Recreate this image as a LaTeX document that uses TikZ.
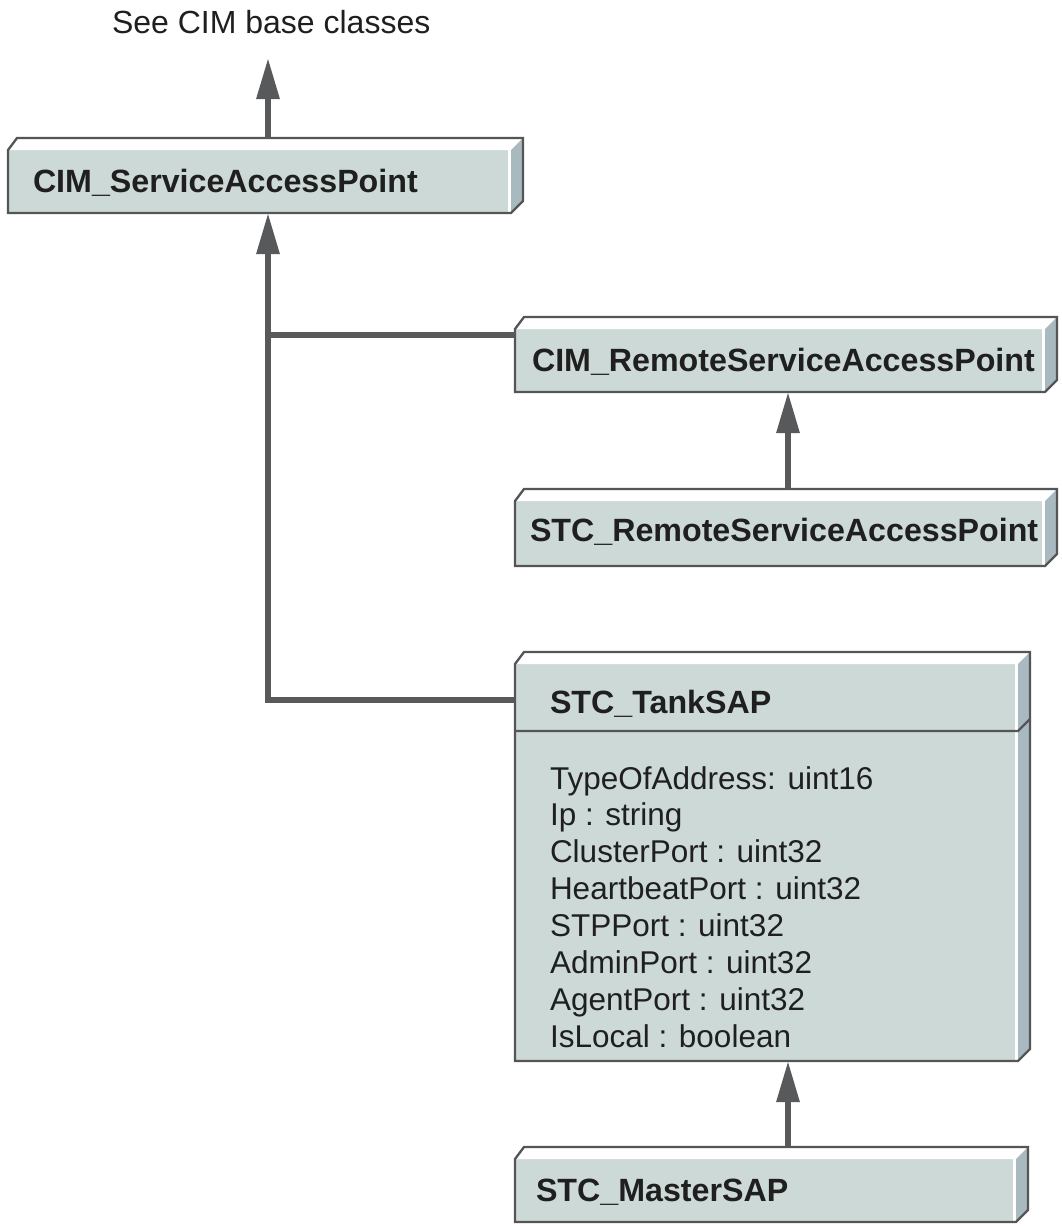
\documentclass[tikz,border=0pt]{standalone}
\usepackage{fontspec}
\setmainfont{Liberation Sans}
\usetikzlibrary{calc,arrows.meta}
\definecolor{facecol}{HTML}{CDD9D7}
\definecolor{sidecol}{HTML}{A8BAC0}
\definecolor{edgecol}{HTML}{555557}
\definecolor{linkcol}{HTML}{58595B}
\tikzset{
  front/.style={rectangle, fill=facecol, inner sep=0pt, outer sep=0pt, anchor=north west},
  lbl/.style={anchor=base west, inner sep=0pt, outer sep=0pt, text=black!88, font=\fontsize{31.5}{37}\selectfont},
  title/.style={lbl, font=\fontsize{32.2}{37}\selectfont\bfseries},
  link/.style={draw=linkcol, line width=6pt, line join=miter},
  inherit/.style={link, -{Triangle[length=41pt,width=22pt]}},
  rim/.style={draw=edgecol, line width=2.3pt, line join=miter}
}
% bevelled shell (top face, side face, outline) around a front-face node
\newcommand\classshell[1]{%
  \fill[white] (#1.north west) -- ([shift={(9pt,12pt)}]#1.north west)
    -- ([shift={(12pt,12pt)}]#1.north east) -- (#1.north east) -- cycle;
  \fill[sidecol] (#1.north east) -- ([shift={(12pt,12pt)}]#1.north east)
    -- ([shift={(12pt,12pt)}]#1.south east) -- (#1.south east) -- cycle;
  \draw[white, line width=3pt] ([xshift=-1.5pt]#1.north east) -- ([xshift=-1.5pt]#1.south east);
  \draw[rim] (#1.south west) -- (#1.north west) -- ([shift={(9pt,12pt)}]#1.north west)
    -- ([shift={(12pt,12pt)}]#1.north east) -- ([shift={(12pt,12pt)}]#1.south east)
    -- (#1.south east) -- cycle;
}
\begin{document}
\begin{tikzpicture}[x=1pt, y=-1pt]
\useasboundingbox (0,0) rectangle (1061,1226);

% front faces of the classes
\node[front, minimum width=503pt, minimum height=63pt]  (b1) at (8,150) {};
\node[front, minimum width=530pt, minimum height=63pt]  (b2) at (515,329) {};
\node[front, minimum width=530pt, minimum height=65pt]  (b3) at (515,501) {};
\node[front, minimum width=503pt, minimum height=397pt] (b4) at (515,664) {};
\node[front, minimum width=501pt, minimum height=63pt]  (b5) at (515,1159) {};

\classshell{b1}
\classshell{b2}
\classshell{b3}
\classshell{b4}
\classshell{b5}

% compartment divider of STC_TankSAP
\draw[rim] ([yshift=-67pt]b4.north west) -- ([yshift=-67pt]b4.north east)
  -- ([shift={(12pt,-55pt)}]b4.north east);

% labels
\node[lbl, font=\fontsize{32}{37}\selectfont] (see) at (112,33) {See CIM base classes};
\node[title] (t1)  at (33,192)  {CIM\_ServiceAccessPoint};
\node[title] (t2)  at (532,371) {CIM\_RemoteServiceAccessPoint};
\node[title] (t3)  at (530,541) {STC\_RemoteServiceAccessPoint};
\node[title] (t4)  at (550,713) {STC\_TankSAP};
\node[title] (t5)  at (536,1201) {STC\_MasterSAP};

\foreach \txt [count=\i from 0] in {TypeOfAddress: uint16, Ip : string,
    ClusterPort : uint32, HeartbeatPort : uint32, STPPort : uint32,
    AdminPort : uint32, AgentPort : uint32, IsLocal : boolean}
  \node[lbl] (attr\i) at (550,{789+36.9*\i}) {\txt};

% connector columns
\coordinate (colA) at (268,0);
\coordinate (colB) at (788,0);
\coordinate (seetip) at (268,58);

% generalisation arrows
\draw[inherit] ([yshift=12pt]b1.north -| colA) -- (seetip);
\draw[inherit] ([yshift=-36pt]b4.north west) -| (b1.south -| colA);
\draw[link] ([yshift=-6pt]b2.north west) -- ([yshift=-6pt]b2.north west -| colA);
\draw[inherit] ([yshift=12pt]b3.north -| colB) -- (b2.south -| colB);
\draw[inherit] ([yshift=12pt]b5.north -| colB) -- (b4.south -| colB);
\end{tikzpicture}
\end{document}
